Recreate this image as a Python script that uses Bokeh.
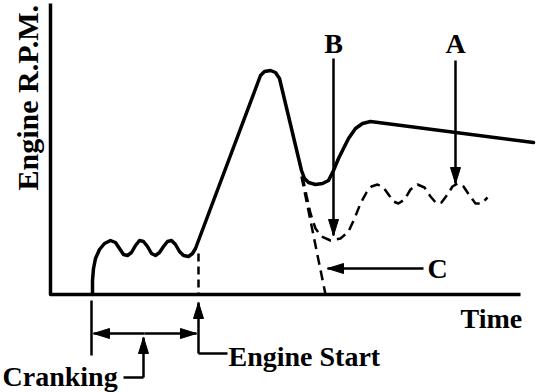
import numpy as np
from bokeh.plotting import figure
from bokeh.models import Range1d, Label
from bokeh.embed import file_html
from bokeh.resources import INLINE

# ---- data (time, engine rpm) in arbitrary schematic units ----
# main solid trace: cranking ripple, start, overshoot, dip, settle
solid_time = [42, 42, 43, 45, 49, 54, 60, 65, 69, 73, 77, 81, 85, 89, 93, 97, 101, 105,
              109, 113, 117, 121, 125, 129, 133, 138, 142, 145, 207, 210, 214, 220, 225,
              229, 251, 254, 258, 265, 272, 278, 283, 288, 292, 298, 305, 312, 320, 483]
solid_rpm = [0, 14, 26, 36, 45, 51, 54, 52, 46, 40, 39, 42, 49, 54, 53, 48, 41, 39,
             42, 48, 53, 54, 50, 43, 39, 38, 41, 46, 211, 219, 223, 224, 222,
             216, 124, 116, 112, 110, 111, 114, 124, 136, 144, 156, 166, 171, 173, 152]

# dashed trace B (deeper dip, then hunting)
b_time = [252, 256, 260, 265, 271, 280, 290, 298, 304, 310, 316, 321, 327, 333, 338, 343,
          348, 354, 360, 367, 374, 380, 386, 391, 397, 402, 407, 413, 419, 425, 431, 437]
b_rpm = [118, 99, 81, 66, 58, 54, 56, 63, 76, 91, 102, 108, 110, 107, 100, 93,
         91, 95, 105, 110, 107, 98, 91, 92, 100, 108, 111, 108, 99, 91, 91, 97]

# dashed trace C (engine stalls)
c_time = [251, 275]
c_rpm = [118, 0]

# engine start marker
start_time = 148
start_rpm_top = 41

# axis extents
axis_time_max = 470
axis_rpm_max = 291

# annotation arrows: (tail_time, tail_rpm, tip_time, tip_rpm)
arrow_A = (405, 234, 405, 111)
arrow_B = (283, 236, 283, 59)
arrow_C = (373, 26, 277, 26)
arrow_crank_left = (94, -39, 43, -39)
arrow_crank_right = (94, -39, 146, -39)
arrow_start = (148, -59, 148, -8)
arrow_crank_ptr = (93, -83, 93, -43)

# plain leader lines: (t0, r0, t1, r1)
leader_lines = [
    (41, -6, 41, -61),      # cranking left bar
    (148, -59, 177, -59),   # engine start elbow
    (73, -83, 93, -83),     # cranking pointer elbow
]

# labels (text, time, rpm of text middle, align)
labels = [
    ("Time", 410, -23.5, "left"),
    ("Engine Start", 178, -61.5, "left"),
    ("Cranking", -48, -81.5, "left"),
    ("A", 405, 251.5, "center"),
    ("B", 283, 251.5, "center"),
    ("C", 377, 26.5, "left"),
]
y_label = ("Engine R.P.M.", -23, 104)

FONT = "Liberation Serif"

p = figure(width=560, height=392, x_range=Range1d(-50, 510), y_range=Range1d(-98, 294),
           output_backend="svg", toolbar_location=None, min_border=0,
           x_axis_location=None, y_axis_location=None)
p.grid.visible = False
p.outline_line_color = None
p.background_fill_color = "white"
p.border_fill_color = "white"

# axes as an L
p.line([0, 0, axis_time_max], [axis_rpm_max, 0, 0], line_color="black",
       line_width=3.5, line_join="round")

# traces
p.line(solid_time, solid_rpm, line_color="black", line_width=3.5,
       line_join="round", line_cap="round")
p.line(b_time, b_rpm, line_color="black", line_width=2.5, line_dash="10 6")
p.line(c_time, c_rpm, line_color="black", line_width=2.5, line_dash="10 6")
p.line([start_time, start_time], [start_rpm_top, 0], line_color="black",
       line_width=2.5, line_dash="8 5")

# leader lines
for (t0, r0, t1, r1) in leader_lines:
    p.line([t0, t1], [r0, r1], line_color="black", line_width=2.5)

# arrows with narrow filled heads
HEAD_L, HEAD_W = 16, 5
hx, hy = [], []
for (t0, r0, t1, r1) in [arrow_A, arrow_B, arrow_C, arrow_crank_left,
                         arrow_crank_right, arrow_start, arrow_crank_ptr]:
    p.line([t0, t1], [r0, r1], line_color="black", line_width=2.5)
    d = np.array([t1 - t0, r1 - r0], dtype=float)
    d /= np.hypot(*d)
    n = np.array([-d[1], d[0]])
    tip = np.array([t1, r1], dtype=float)
    base = tip - d * HEAD_L
    pts = [tip, base + n * HEAD_W, base - n * HEAD_W]
    hx.append([q[0] for q in pts])
    hy.append([q[1] for q in pts])
p.patches(hx, hy, fill_color="black", line_color="black", line_width=1)

for (txt, t, r, al) in labels:
    p.add_layout(Label(x=t, y=r, text=txt, text_font=FONT, text_font_size="28px",
                       text_font_style="bold", text_align=al, text_baseline="middle",
                       text_color="black"))
p.add_layout(Label(x=y_label[1], y=y_label[2], text=y_label[0], text_font=FONT,
                   text_font_size="30px", text_font_style="bold", angle=np.pi / 2,
                   text_align="left", text_baseline="middle", text_color="black"))

open("out.html", "w").write(file_html(p, INLINE))
